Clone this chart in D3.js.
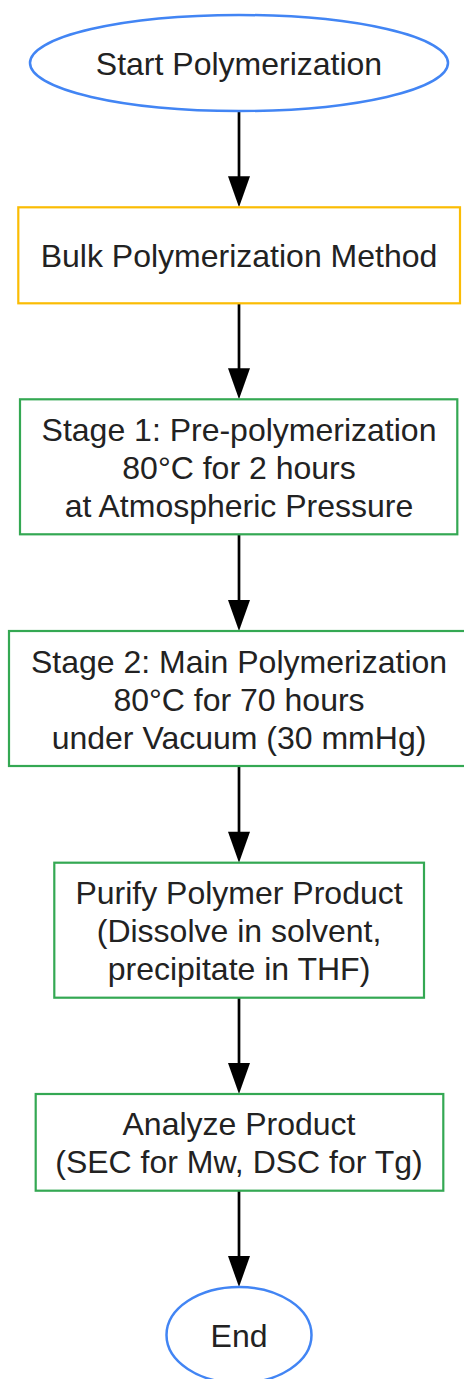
<!DOCTYPE html>
<html>
<head>
<meta charset="utf-8">
<script src="https://cdn.jsdelivr.net/npm/d3@7"></script>
<style>
  html, body { margin: 0; padding: 0; background: #ffffff; }
  svg { display: block; }
</style>
</head>
<body>
<div id="chart"></div>
<script>
// ---- data ----
const nodeLabels = [
  ["Start Polymerization"],
  ["Bulk Polymerization Method"],
  ["Stage 1: Pre-polymerization", "80°C for 2 hours", "at Atmospheric Pressure"],
  ["Stage 2: Main Polymerization", "80°C for 70 hours", "under Vacuum (30 mmHg)"],
  ["Purify Polymer Product", "(Dissolve in solvent,", "precipitate in THF)"],
  ["Analyze Product", "(SEC for Mw, DSC for Tg)"],
  ["End"]
];
const nodeKinds = ["terminal", "method", "step", "step", "step", "step", "terminal"];
const edges = [[0, 1], [1, 2], [2, 3], [3, 4], [4, 5], [5, 6]];

// ---- layout (pixels) ----
const W = 464, H = 1379, CX = 239;
const layout = [
  { x0: 30,   x1: 448,   y0: 15,    y1: 111 },
  { x0: 18.3, x1: 460,   y0: 207.3, y1: 303.3 },
  { x0: 20,   x1: 457.3, y0: 399.3, y1: 534.3 },
  { x0: 9,    x1: 469,   y0: 631,   y1: 766 },
  { x0: 54.3, x1: 424,   y0: 862.7, y1: 997.7 },
  { x0: 35.7, x1: 443.3, y0: 1094,  y1: 1190.7 },
  { x0: 166.5,x1: 311.5, y0: 1287,  y1: 1383 }
];
const strokeColor = d3.scaleOrdinal()
  .domain(["terminal", "method", "step"])
  .range(["#4285F4", "#FBBC04", "#34A853"]);
const FONT = 32, LINE = 38, BASE = 12;

const nodes = nodeLabels.map((lines, i) => ({ lines, kind: nodeKinds[i], ...layout[i] }));

const svg = d3.select("#chart").append("svg")
  .attr("width", W).attr("height", H)
  .attr("viewBox", `0 0 ${W} ${H}`);
svg.append("rect").attr("width", W).attr("height", H).attr("fill", "#fff");

// edges
const eg = svg.append("g");
edges.forEach(([s, t]) => {
  const a = nodes[s], b = nodes[t];
  const tip = b.y0, headLen = 31, headW = 11;
  eg.append("line")
    .attr("x1", CX).attr("x2", CX)
    .attr("y1", a.y1).attr("y2", tip - headLen + 2)
    .attr("stroke", "#000").attr("stroke-width", 2.7);
  eg.append("path")
    .attr("d", `M${CX - headW},${tip - headLen} L${CX + headW},${tip - headLen} L${CX},${tip} Z`)
    .attr("fill", "#000");
});

// nodes
const ng = svg.append("g").selectAll("g").data(nodes).join("g");
ng.each(function(d) {
  const g = d3.select(this);
  if (d.kind === "terminal") {
    g.append("ellipse")
      .attr("cx", (d.x0 + d.x1) / 2).attr("cy", (d.y0 + d.y1) / 2)
      .attr("rx", (d.x1 - d.x0) / 2).attr("ry", (d.y1 - d.y0) / 2)
      .attr("fill", "#fff").attr("stroke", strokeColor(d.kind)).attr("stroke-width", 2.5);
  } else {
    g.append("rect")
      .attr("x", d.x0).attr("y", d.y0)
      .attr("width", d.x1 - d.x0).attr("height", d.y1 - d.y0)
      .attr("fill", "#fff").attr("stroke", strokeColor(d.kind)).attr("stroke-width", 2.2);
  }
  const cy = (d.y0 + d.y1) / 2;
  const n = d.lines.length;
  g.selectAll("text").data(d.lines).join("text")
    .attr("x", CX)
    .attr("y", (l, i) => cy + (i - (n - 1) / 2) * LINE + BASE)
    .attr("text-anchor", "middle")
    .attr("font-family", "'Liberation Sans', Arial, sans-serif")
    .attr("font-size", FONT)
    .attr("fill", "#222")
    .text(l => l);
});
</script>
</body>
</html>
